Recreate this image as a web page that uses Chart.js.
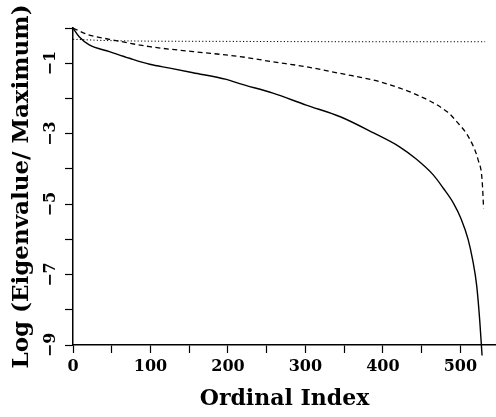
<!DOCTYPE html>
<html>
<head>
<meta charset="utf-8">
<script src="https://cdn.jsdelivr.net/npm/chart.js@4"></script>
<style>
  html, body { margin: 0; padding: 0; background: #fff; }
</style>
</head>
<body>
<canvas id="chart" width="496" height="417"></canvas>
<script>
// values (ordinal index -> log eigenvalue/maximum)
const solidIdx = [0, 8, 21, 47, 73, 99, 125, 155, 198, 215, 258, 301, 345, 388, 422, 443, 465, 478, 491, 501, 510, 516, 521, 525, 528];
const solidVal = [0, -0.25, -0.48, -0.67, -0.86, -1.03, -1.14, -1.27, -1.46, -1.58, -1.85, -2.19, -2.52, -2.98, -3.38, -3.72, -4.17, -4.55, -4.97, -5.42, -6.0, -6.6, -7.3, -8.3, -9.3];

const dashIdx = [0, 21, 47, 99, 155, 215, 258, 301, 345, 388, 403, 422, 439, 483, 495, 512, 523, 528, 530];
const dashVal = [0, -0.2, -0.32, -0.53, -0.67, -0.81, -0.96, -1.1, -1.29, -1.48, -1.57, -1.71, -1.85, -2.38, -2.65, -3.15, -3.75, -4.3, -5.12];

const dotIdx = [0, 50, 200, 400, 532];
const dotVal = [-0.32, -0.36, -0.38, -0.39, -0.39];

const xTicks = [0, 50, 100, 150, 200, 250, 300, 350, 400, 450, 500];
const yLabelled = [-1, -3, -5, -7, -9];

const serif = "'DejaVu Serif', serif";
const pts = (xs, ys) => xs.map((x, i) => ({ x, y: ys[i] }));

// y title drawn by hand: the scale title would squeeze it into the axis height
const yTitle = {
  id: "yTitle",
  afterDraw(chart) {
    const { ctx, chartArea } = chart;
    ctx.save();
    ctx.translate(22, (chartArea.top + chartArea.bottom) / 2);
    ctx.rotate(-Math.PI / 2);
    ctx.font = "bold 23px " + serif;
    ctx.fillStyle = "#000";
    ctx.textAlign = "center";
    ctx.textBaseline = "middle";
    ctx.fillText("Log (Eigenvalue/ Maximum)", 0, 0);
    ctx.restore();
  }
};

const line = (data, dash, width) => ({
  data, borderColor: "#000", borderWidth: width, borderDash: dash,
  pointRadius: 0, cubicInterpolationMode: "monotone", clip: false, fill: false
});

new Chart(document.getElementById("chart"), {
  type: "line",
  data: {
    datasets: [
      line(pts(dotIdx, dotVal), [1.2, 2.2], 1),
      line(pts(dashIdx, dashVal), [5, 3.5], 1.3),
      line(pts(solidIdx, solidVal), [], 1.4)
    ]
  },
  options: {
    responsive: false,
    animation: false,
    layout: { padding: { top: 28, left: 0, right: 0, bottom: 0 } },
    plugins: { legend: { display: false }, tooltip: { enabled: false } },
    scales: {
      x: {
        type: "linear", min: 0, max: 546,
        afterFit: (s) => { s.height = 72; },
        afterBuildTicks: (s) => { s.ticks = xTicks.map(v => ({ value: v })); },
        ticks: {
          autoSkip: false, maxRotation: 0, padding: 4, color: "#000",
          font: { family: serif, size: 16, weight: "bold" },
          callback: (v) => (v % 100 === 0 ? String(v) : "")
        },
        grid: { drawOnChartArea: false, tickLength: 8, tickColor: "#000", tickWidth: 1.2 },
        border: { color: "#000", width: 1.5 },
        title: {
          display: true, text: "Ordinal Index", color: "#000",
          font: { family: serif, size: 22, weight: "bold" },
          padding: { top: 0, bottom: 5 }
        }
      },
      y: {
        min: -9, max: 0,
        afterFit: (s) => { s.width = 73; },
        ticks: {
          stepSize: 1, autoSkip: false, minRotation: 90, maxRotation: 90,
          crossAlign: "center", padding: 2, color: "#000",
          font: { family: serif, size: 16, weight: "bold" },
          callback: (v) => (yLabelled.includes(v) ? "\u2212" + Math.abs(v) : "")
        },
        grid: { drawOnChartArea: false, tickLength: 8, tickColor: "#000", tickWidth: 1.2 },
        border: { color: "#000", width: 1.5 }
      }
    }
  },
  plugins: [yTitle]
});
</script>
</body>
</html>
